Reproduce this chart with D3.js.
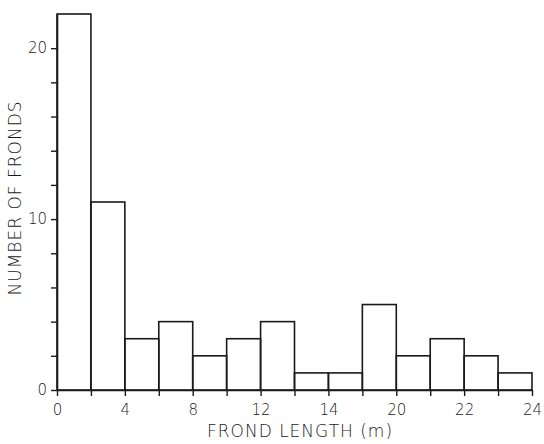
<!DOCTYPE html>
<html><head><meta charset="utf-8">
<script src="https://cdn.jsdelivr.net/npm/d3@7"></script>
<style>body{margin:0;background:#fff}svg{display:block}</style>
</head><body>
<svg id="c" width="544" height="444"></svg>
<script>
const binIndex = d3.range(14);
const counts = [22, 11, 3, 4, 2, 3, 4, 1, 1, 5, 2, 3, 2, 1];
const xTickLabels = ["0", "4", "8", "12", "14", "20", "22", "24"];
const yTickLabels = [0, 10, 20];

const svg = d3.select("#c");
const col = "#1a1a1a";
const x = d3.scaleLinear().domain([0, 14]).range([57, 532]);
const y = d3.scaleLinear().domain([0, 22]).range([390, 14]);

svg.append("g").selectAll("rect").data(binIndex).join("rect")
  .attr("x", i => x(i)).attr("width", i => x(i + 1) - x(i))
  .attr("y", i => y(counts[i])).attr("height", i => y(0) - y(counts[i]))
  .attr("fill", "none").attr("stroke", col).attr("stroke-width", 1.6);

const xa = svg.append("g").attr("transform", `translate(0,${y(0)})`)
  .call(d3.axisBottom(x).tickValues(d3.range(15)).tickSize(6).tickSizeOuter(0)
    .tickFormat(i => i % 2 === 0 ? xTickLabels[i / 2] : ""));
xa.select(".domain").attr("stroke", col).attr("stroke-width", 1.6);
xa.selectAll(".tick line").attr("stroke", col).attr("stroke-width", 1.4);
xa.selectAll("text").attr("font-family", "DejaVu Sans").attr("font-size", 15)
  .attr("fill", col).attr("dy", "1.05em").attr("font-weight", 300);

const ya = svg.append("g").attr("transform", `translate(${x(0)},0)`)
  .call(d3.axisLeft(y).tickValues(d3.range(0, 21, 2)).tickSize(6).tickSizeOuter(0)
    .tickFormat(v => yTickLabels.includes(v) ? String(v) : ""));
ya.select(".domain").attr("stroke", col).attr("stroke-width", 1.6);
ya.selectAll(".tick line").attr("stroke", col).attr("stroke-width", 1.4);
ya.selectAll("text").attr("font-family", "DejaVu Sans").attr("font-size", 15)
  .attr("fill", col).attr("x", -10).attr("font-weight", 300);

svg.append("text").attr("x", 300).attr("y", 437).attr("text-anchor", "middle")
  .attr("font-family", "DejaVu Sans").attr("font-size", 17).attr("fill", col)
  .attr("font-weight", 300).attr("letter-spacing", 1).text("FROND LENGTH (m)");
svg.append("text").attr("transform", "translate(21,198) rotate(-90)").attr("text-anchor", "middle")
  .attr("font-family", "DejaVu Sans").attr("font-size", 17).attr("fill", col)
  .attr("font-weight", 300).attr("letter-spacing", 1).text("NUMBER OF FRONDS");
</script>
</body></html>
